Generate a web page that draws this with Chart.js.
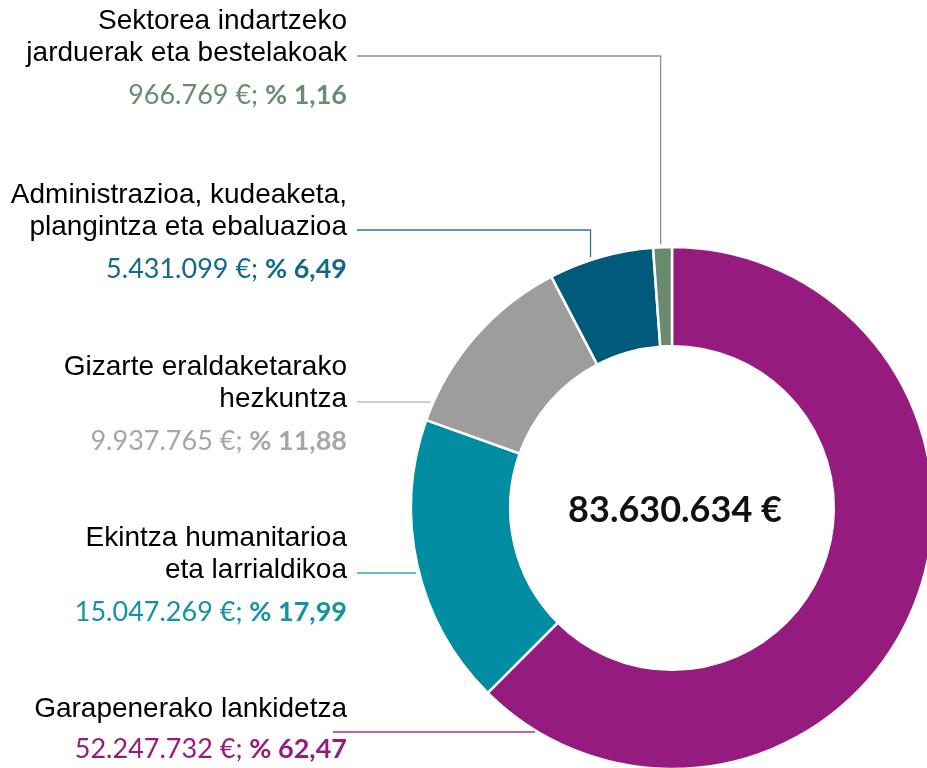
<!DOCTYPE html>
<html>
<head>
<meta charset="utf-8">
<script src="https://cdn.jsdelivr.net/npm/chart.js@4"></script>
<style>
  html, body { margin: 0; padding: 0; background: #ffffff; overflow: hidden; width: 927px; height: 768px; }
  #wrap { position: absolute; left: 0; top: 0; width: 1000px; height: 800px; }
</style>
</head>
<body>
<div id="wrap"><canvas id="donut" width="1000" height="800"></canvas></div>
<script>
// Datuak (erreferentziako irudian irakurrita)
const categories = [
  ['Garapenerako lankidetza'],
  ['Ekintza humanitarioa', 'eta larrialdikoa'],
  ['Gizarte eraldaketarako', 'hezkuntza'],
  ['Administrazioa, kudeaketa,', 'plangintza eta ebaluazioa'],
  ['Sektorea indartzeko', 'jarduerak eta bestelakoak']
];
const amounts = [52247732, 15047269, 9937765, 5431099, 966769];
const percents = ['62,47', '17,99', '11,88', '6,49', '1,16'];
const totalLabel = '83.630.634 €';

// Koloreak
const sliceColors = ['#951b7e', '#008da1', '#9d9d9c', '#005a7b', '#6a8a6f'];
const valueColors = ['#951b7e', '#1393a7', '#a6a6a6', '#14698a', '#6c8c71'];
const lineColors = ['#a3358e', '#3aa7b7', '#bdbdbd', '#2a7896', '#7e9a82'];

// Etiketen lehen lerroaren oinarri-lerroa (diseinua)
const labelTop = [717, 546, 375, 203, 29];
const textRight = 347;

function formatEuro(n) {
  return String(n).replace(/\B(?=(\d{3})+(?!\d))/g, '.');
}

const labelPlugin = {
  id: 'leaderLabels',
  afterDraw(chart) {
    const ctx = chart.ctx;
    const arcs = chart.getDatasetMeta(0).data;
    ctx.save();

    arcs.forEach((arc, i) => {
      const lines = categories[i];
      const cx = arc.x, cy = arc.y, R = arc.outerRadius;

      // izenburua
      ctx.font = '28px "Liberation Sans", Arial, sans-serif';
      ctx.fillStyle = '#000000';
      ctx.textAlign = 'right';
      ctx.textBaseline = 'alphabetic';
      lines.forEach((t, k) => ctx.fillText(t, textRight, labelTop[i] + k * 32));
      const lastY = labelTop[i] + (lines.length - 1) * 32;

      // balioa: "966.769 €; % 1,16"
      const valueY = lastY + (lines.length > 1 ? 43 : 41);
      ctx.fillStyle = valueColors[i];
      ctx.font = 'bold 27px Lato, sans-serif';
      const boldTxt = '% ' + percents[i];
      const bw = ctx.measureText(boldTxt).width;
      ctx.fillText(boldTxt, textRight, valueY);
      ctx.font = '27px Lato, sans-serif';
      ctx.fillText(formatEuro(amounts[i]) + ' €; ', textRight - bw, valueY);

      // lerro gidaria
      ctx.strokeStyle = lineColors[i];
      ctx.lineWidth = 1.3;
      ctx.beginPath();
      let ly, lx0;
      if (lines.length > 1) {
        ly = lastY - 5;
        lx0 = textRight + 10;
      } else {
        ly = valueY - 26;
        lx0 = textRight - 14;
      }
      const gap = 3;
      if (ly < cy - R) {
        // arkuaren gainetik: ukondoa eta behera
        const mid = arc.startAngle + (arc.endAngle - arc.startAngle) * 0.4;
        const vx = cx + R * Math.cos(mid);
        const vy = cy + R * Math.sin(mid) - gap;
        ctx.moveTo(lx0, ly);
        ctx.lineTo(vx, ly);
        ctx.lineTo(vx, vy);
      } else {
        const dy = ly - cy;
        const ex = cx - Math.sqrt(R * R - dy * dy) - gap;
        ctx.moveTo(lx0, ly);
        ctx.lineTo(ex, ly);
      }
      ctx.stroke();
    });

    // erdiko guztizkoa
    const a0 = arcs[0];
    ctx.font = 'bold 36px Lato, sans-serif';
    ctx.fillStyle = '#111111';
    ctx.textAlign = 'center';
    ctx.textBaseline = 'alphabetic';
    ctx.fillText(totalLabel, a0.x + 3, a0.y + 14);
    ctx.restore();
  }
};

new Chart(document.getElementById('donut'), {
  type: 'doughnut',
  data: {
    labels: categories.map(c => c.join(' ')),
    datasets: [{
      data: amounts,
      backgroundColor: sliceColors,
      borderColor: '#ffffff',
      borderWidth: 2.5,
      hoverOffset: 0
    }]
  },
  options: {
    responsive: false,
    animation: false,
    radius: 261,
    cutout: 161,
    layout: { padding: { left: 411, right: 67, top: 247, bottom: 31 } },
    plugins: {
      legend: { display: false },
      tooltip: { enabled: false }
    }
  },
  plugins: [labelPlugin]
});
</script>
</body>
</html>
